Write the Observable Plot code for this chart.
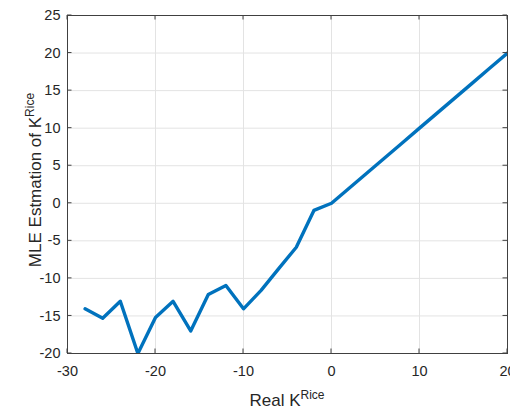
<!DOCTYPE html>
<html><head><meta charset="utf-8">
<script src="https://cdn.jsdelivr.net/npm/d3@7"></script>
<script src="https://cdn.jsdelivr.net/npm/@observablehq/plot@0.6"></script>
<style>body{margin:0;background:#fff;overflow:hidden}</style>
</head><body><div id="chart"></div>
<script>
const realK = [-28,-26,-24,-22,-20,-18,-16,-14,-12,-10,-8,-6,-4,-2,0,2,4,6,8,10,12,14,16,18,20];
const mleK  = [-14.05,-15.3,-13.05,-20,-15.2,-13.05,-17,-12.15,-10.95,-14.05,-11.6,-8.7,-5.85,-0.95,0,2,4,6,8,10,12,14,16,18,20];
const xTicks = [-30,-20,-10,0,10,20];
const yTicks = [-20,-15,-10,-5,0,5,10,15,20,25];
const xLabel = ["Real K", "Rice"];
const yLabel = ["MLE Estmation of K", "Rice"];

const data = realK.map((x, i) => ({x, y: mleK[i]}));
const axisColor = "#262626";
const fmt = d => String(d);

const plot = Plot.plot({
  width: 510, height: 409,
  marginLeft: 67, marginRight: 3, marginTop: 15, marginBottom: 56,
  style: {fontFamily: "'Liberation Sans', Arial, sans-serif", fontSize: "14.5px", background: "#fff", color: axisColor},
  x: {domain: [-30, 20], label: null},
  y: {domain: [-20, 25], label: null},
  marks: [
    Plot.gridX(xTicks, {stroke: "#e3e3e3", strokeOpacity: 1}),
    Plot.gridY(yTicks, {stroke: "#e3e3e3", strokeOpacity: 1}),
    Plot.line(data, {x: "x", y: "y", stroke: "#0072BD", strokeWidth: 3.4, clip: true}),
    Plot.frame({stroke: "#404040", strokeWidth: 1}),
    Plot.axisX(xTicks, {tickSize: 0, tickPadding: 12, fontSize: 14.5, tickFormat: fmt}),
    Plot.axisY(yTicks, {tickSize: 0, tickPadding: 7, fontSize: 14.5, tickFormat: fmt})
  ]
});

const svg = d3.select(plot);
const sx = plot.scale("x"), sy = plot.scale("y");
const [x0, x1] = [sx.apply(-30), sx.apply(20)];
const [y0, y1] = [sy.apply(-20), sy.apply(25)];
const tl = 4.5;
const g = svg.append("g").attr("stroke", "#404040").attr("stroke-width", 1);
xTicks.forEach(v => {
  const x = sx.apply(v);
  g.append("line").attr("x1", x).attr("x2", x).attr("y1", y0).attr("y2", y0 - tl);
  g.append("line").attr("x1", x).attr("x2", x).attr("y1", y1).attr("y2", y1 + tl);
});
yTicks.forEach(v => {
  const y = sy.apply(v);
  g.append("line").attr("x1", x0).attr("x2", x0 + tl).attr("y1", y).attr("y2", y);
  g.append("line").attr("x1", x1).attr("x2", x1 - tl).attr("y1", y).attr("y2", y);
});

const xl = svg.append("text")
  .attr("x", (x0 + x1) / 2).attr("y", 406)
  .attr("text-anchor", "middle").attr("fill", axisColor)
  .style("font-size", "17px");
xl.append("tspan").text(xLabel[0]);
xl.append("tspan").attr("dy", "-0.55em").style("font-size", "12px").text(xLabel[1]);

const yl = svg.append("text")
  .attr("transform", `translate(41,${(y0 + y1) / 2 - 4}) rotate(-90)`)
  .attr("text-anchor", "middle").attr("fill", axisColor)
  .style("font-size", "17px");
yl.append("tspan").text(yLabel[0]);
yl.append("tspan").attr("dy", "-0.55em").style("font-size", "12px").text(yLabel[1]);

document.getElementById("chart").appendChild(plot);
</script>
</body></html>
